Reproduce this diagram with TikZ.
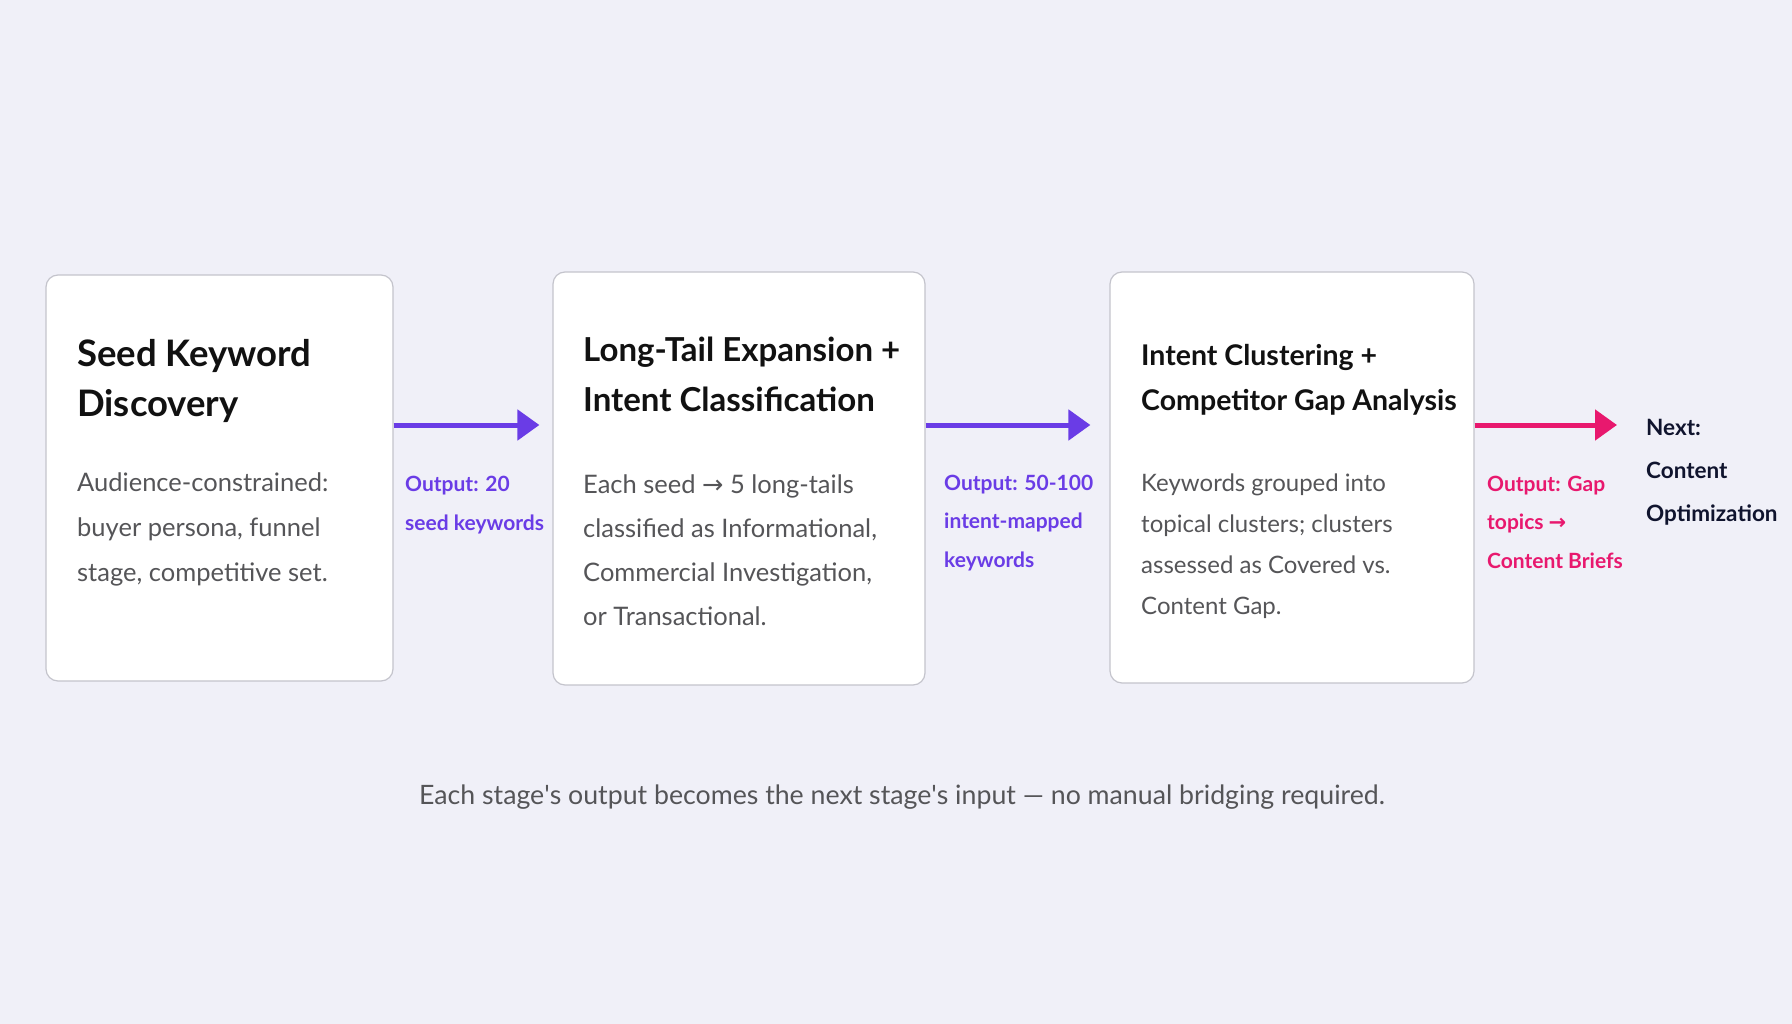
\documentclass[tikz,border=0pt]{standalone}
\usepackage{fontspec}
\setmainfont{Lato}
\newfontfamily\arrowfont{DejaVu Sans}
\usetikzlibrary{arrows.meta, positioning}

\definecolor{canvas}{HTML}{F0F0F8}
\definecolor{boxline}{HTML}{C4C4CC}
\definecolor{ink}{HTML}{111111}
\definecolor{bodygray}{HTML}{555558}
\definecolor{flowviolet}{HTML}{6A3CE6}
\definecolor{flowpink}{HTML}{E8186E}
\definecolor{navy}{HTML}{10142E}

\newcommand{\ra}{{\arrowfont\char"2192}}

\begin{document}
\begin{tikzpicture}[x=1pt, y=-1pt,
    stage/.style={rectangle, draw=boxline, fill=white, rounded corners=12pt, line width=1.2pt},
    heading/.style={anchor=west, align=left, inner sep=0pt, text=ink, font=\fontsize{33}{50}\selectfont\bfseries},
    detail/.style={anchor=west, align=left, inner sep=0pt, text=bodygray, font=\fontsize{25.5}{44}\selectfont},
    outlabel/.style={anchor=west, align=left, inner sep=0pt, font=\fontsize{21}{38.5}\selectfont\bfseries},
    flow/.style={line width=5pt, -{Triangle[length=22pt, width=30pt]}}
    ]

    % Background
    \fill[canvas] (0,0) rectangle (1792,1024);
    \useasboundingbox (0,0) rectangle (1792,1024);

    % Define the stages
    \node[stage, minimum width=347pt, minimum height=406pt] (seed) at (219.5,478) {};
    \node[stage, minimum width=372pt, minimum height=413pt] (expand) at (739,478.5) {};
    \node[stage, minimum width=364pt, minimum height=411pt] (cluster) at (1292,477.5) {};

    % Stage texts
    \node[heading, font=\fontsize{36.5}{50}\selectfont\bfseries] (seedtitle) at (77,380.5) {Seed Keyword\\Discovery};
    \node[detail, font=\fontsize{25.5}{45}\selectfont] (seedbody) at (77,529) {Audience-constrained:\\buyer persona, funnel\\stage, competitive set.};

    \node[heading] (expandtitle) at (583,374) {Long-Tail Expansion +\\Intent Classification};
    \node[detail] (expandbody) at (583,550.5) {Each seed \ra{} 5 long-tails\\classified as Informational,\\Commercial Investigation,\\or Transactional.};

    \node[heading, font=\fontsize{28.5}{45}\selectfont\bfseries] (clustertitle) at (1141,379.5) {Intent Clustering +\\Competitor Gap Analysis};
    \node[detail, font=\fontsize{24}{41}\selectfont] (clusterbody) at (1141,546) {Keywords grouped into\\topical clusters; clusters\\assessed as Covered vs.\\Content Gap.};

    % Next step
    \coordinate (nextpoint) at (1617,425);
    \node[outlabel, text=navy, font=\fontsize{22.5}{43}\selectfont\bfseries] (next) at (1646,472) {Next:\\Content\\Optimization};

    % Connect the stages
    \draw[flow, flowviolet] ([yshift=53pt]seed.east) -- ([xshift=-13pt, yshift=53.5pt]expand.west);
    \draw[flow, flowviolet] ([yshift=53.5pt]expand.east) -- ([xshift=-19pt, yshift=52.5pt]cluster.west);
    \draw[flow, flowpink] ([yshift=52.5pt]cluster.east) -- (nextpoint);

    % Output labels
    \node[outlabel, text=flowviolet] (out1) at (405,505) {Output: 20\\seed keywords};
    \node[outlabel, text=flowviolet] (out2) at (944,523) {Output: 50-100\\intent-mapped\\keywords};
    \node[outlabel, text=flowpink] (out3) at (1487,522) {Output: Gap\\topics \ra\\Content Briefs};

    % Caption
    \node[text=bodygray, font=\fontsize{26.7}{32}\selectfont] (caption) at (902,797) {Each stage\textquotesingle s output becomes the next stage\textquotesingle s input — no manual bridging required.};

\end{tikzpicture}
\end{document}
